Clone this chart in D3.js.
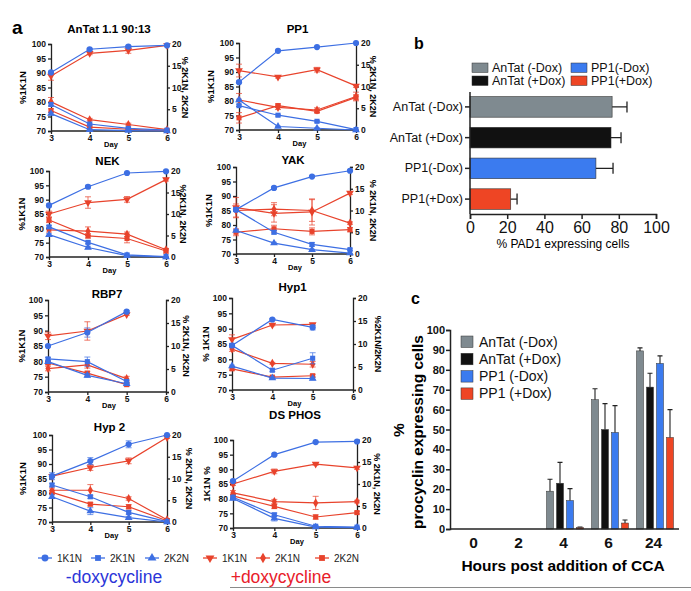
<!DOCTYPE html>
<html><head><meta charset="utf-8">
<script src="https://cdn.jsdelivr.net/npm/d3@7"></script>
<style>body{margin:0;background:#fff} svg{display:block} text{font-family:"Liberation Sans",Arial,Helvetica,sans-serif}</style>
</head><body><svg id="chart" width="691" height="591"></svg>
<script>
// ---------- DATA: panel a (1K1N on left axis %, 2K1N/2K2N on right axis %) ----------
const days = [3, 4, 5, 6];
const seriesNames = ["1K1N", "2K1N", "2K2N", "1K1N", "2K1N", "2K2N"]; // first 3: -dox (blue), last 3: +dox (red)

const antatVals = [[90.2, 98.2, 99.1, 99.5], [6.1, 1.6, 0.6, 0.2], [4.0, 0.3, 0.1, 0.0],
                   [89.0, 96.8, 97.8, 99.5], [6.7, 2.6, 1.5, 0.3], [4.7, 0.9, 0.4, 0.1]];
const antatErr  = [[0.4, 0.3, 0.4, 0.2], [0.3, 0.2, 0.1, 0], [0.3, 0.1, 0.1, 0],
                   [1.5, 0.5, 1.0, 0.3], [1.0, 0.3, 0.3, 0.1], [0.4, 0.2, 0.1, 0]];
const pp1Vals   = [[86.5, 97.3, 98.6, 100], [5.6, 3.4, 2.0, 0.1], [6.9, 0.8, 0.4, 0.0],
                   [90.5, 88.3, 90.8, 85.2], [6.9, 5.2, 4.6, 7.7], [2.8, 5.6, 4.3, 7.5]];
const pp1Err    = [[0.4, 0.2, 0.2, 0], [0.2, 0.2, 0.2, 0], [0.2, 0.1, 0.1, 0],
                   [2.2, 0.4, 0.8, 0.5], [1.5, 0.5, 0.5, 1.0], [1.2, 0.4, 0.3, 0.6]];
const nekVals   = [[88.0, 94.5, 99.3, 99.9], [7.0, 3.4, 0.5, 0.1], [5.2, 2.2, 0.3, 0.0],
                   [85.0, 89.0, 90.1, 97.0], [6.3, 6.0, 5.3, 1.7], [8.6, 4.9, 4.3, 1.4]];
const nekErr    = [[0.5, 0.5, 0.2, 0.1], [0.3, 0.3, 0.2, 0], [0.2, 0.3, 0.1, 0],
                   [1.0, 2.0, 1.0, 0.5], [0.5, 1.0, 0.5, 0.3], [0.6, 0.5, 1.0, 0.5]];
const yakVals   = [[85.3, 92.8, 96.7, 98.7], [10.2, 5.0, 2.2, 1.0], [5.4, 2.5, 1.0, 0.2],
                   [86.0, 84.0, 84.5, 91.0], [10.0, 10.3, 10.0, 7.1], [5.0, 5.8, 5.2, 5.6]];
const yakErr    = [[0.5, 0.4, 0.3, 0.3], [0.4, 0.4, 0.4, 0.2], [0.2, 0.2, 0.1, 0],
                   [3.5, 3.0, 4.5, 0.5], [1.5, 1.5, 2.5, 0.3], [0.8, 0.8, 0.8, 0.5]];
const rbp7Vals  = [[85.0, 89.4, 96.2], [7.2, 6.6, 2.3], [6.6, 3.6, 1.8],
                   [88.3, 89.9, 95.3], [5.1, 5.9, 2.9], [6.3, 4.1, 1.6]];
const rbp7Err   = [[0.3, 1.5, 0.3], [0.3, 1.0, 0.3], [0.2, 0.4, 0.2],
                   [1.2, 3.0, 0.3], [0.5, 0.7, 0.5], [0.3, 0.4, 0.3]];
const hyp1Vals  = [[84.5, 93.0, 90.4], [9.7, 4.3, 6.9], [5.2, 2.6, 2.5],
                   [86.5, 91.2, 91.4], [8.9, 5.8, 5.6], [4.6, 2.8, 3.1]];
const hyp1Err   = [[0.5, 0.3, 0.8], [0.3, 0.3, 1.2], [0.2, 0.2, 0.3],
                   [1.5, 0.3, 0.3], [0.5, 0.2, 0.6], [0.3, 0.2, 0.3]];
const hyp2Vals  = [[85.8, 91.0, 96.8, 100], [8.5, 5.8, 2.2, 0.1], [5.8, 2.5, 1.0, 0.0],
                   [85.8, 88.8, 91.1, 99.1], [7.3, 7.3, 5.4, 0.5], [6.8, 4.1, 3.5, 0.3]];
const hyp2Err   = [[1.2, 1.2, 1.2, 0], [0.4, 0.4, 0.4, 0], [0.4, 0.8, 0.3, 0],
                   [0.5, 1.0, 1.0, 0.3], [0.5, 1.3, 0.4, 0.3], [0.4, 0.4, 0.5, 0.2]];
const dsVals    = [[86.0, 95.0, 99.3, 99.5], [7.0, 3.0, 0.4, 0.2], [6.7, 2.2, 0.2, 0.1],
                   [85.0, 89.3, 91.8, 90.5], [8.0, 6.0, 5.7, 6.0], [7.3, 4.9, 2.5, 3.5]];
const dsErr     = [[0.4, 0.3, 0.2, 0.2], [0.3, 0.4, 0.2, 0.1], [0.3, 0.6, 0.2, 0],
                   [0.5, 0.8, 0.4, 0.5], [0.5, 0.5, 1.5, 0.3], [0.3, 0.5, 0.5, 0.3]];

// ---------- DATA: panel b ----------
const bCats = ["AnTat (-Dox)", "AnTat (+Dox)", "PP1(-Dox)", "PP1(+Dox)"];
const bVals = [76.4, 75.8, 67.7, 21.9];
const bErr  = [8.0, 5.4, 9.2, 3.4];
const bTicks = [0, 20, 40, 60, 80, 100];

// ---------- DATA: panel c ----------
const cHours = ["0", "2", "4", "6", "24"];
const cSeries = ["AnTat (-Dox)", "AnTat (+Dox)", "PP1 (-Dox)", "PP1 (+Dox)"];
const cAnTatMinus = [0, 0, 19.0, 65.0, 89.5];
const cAnTatPlus  = [0, 0, 23.0, 50.0, 71.3];
const cPP1Minus   = [0, 0, 14.3, 48.5, 83.2];
const cPP1Plus    = [0, 0, 0.7, 3.0, 46.0];
const cErrAnTatMinus = [0, 0, 6.0, 5.5, 1.5];
const cErrAnTatPlus  = [0, 0, 10.5, 13.0, 7.0];
const cErrPP1Minus   = [0, 0, 6.0, 13.5, 3.8];
const cErrPP1Plus    = [0, 0, 0.3, 1.5, 14.0];

// ---------- STYLE / LAYOUT ----------
const BLUE = "#3d6fe3", RED = "#e8432c";
const barColors = ["#7f8a90", "#111111", "#3b7bef", "#ee4524"];
const FONT = '"Liberation Sans",Arial,Helvetica,sans-serif';
const svg = d3.select("#chart");

const panelsA = [
  {vals: antatVals, err: antatErr, title: "AnTat 1.1 90:13", x0: 51, x1: 167, y0: 44, y1: 131, tb: 33, ll: "%1K1N", rl: "% 2K1N, 2K2N", lx: 22, rx: 185},
  {vals: pp1Vals, err: pp1Err, title: "PP1", x0: 239, x1: 356, y0: 43, y1: 130, tb: 33, ll: "%1K1N", rl: "% 2K1N, 2K2N", lx: 210, rx: 373},
  {vals: nekVals, err: nekErr, title: "NEK", x0: 49, x1: 166, y0: 171, y1: 257, tb: 165, ll: "%1K1N", rl: "%2K1N, 2K2N", lx: 21, rx: 183},
  {vals: yakVals, err: yakErr, title: "YAK", x0: 236, x1: 350, y0: 167, y1: 254, tb: 164, ll: "%1K1N", rl: "% 2K1N, 2K2N", lx: 208, rx: 373},
  {vals: rbp7Vals, err: rbp7Err, title: "RBP7", x0: 48, x1: 166, y0: 300, y1: 392, tb: 298, ll: "%1K1N", rl: "% 2K1N, 2K2N", lx: 21, rx: 186},
  {vals: hyp1Vals, err: hyp1Err, title: "Hyp1", x0: 232, x1: 353, y0: 298, y1: 390, tb: 291, ll: "% 1K1N", rl: "%2K1N/2K2N", lx: 205, rx: 378},
  {vals: hyp2Vals, err: hyp2Err, title: "Hyp 2", x0: 52, x1: 167, y0: 435, y1: 522, tb: 431, ll: "%1K1N", rl: "% 2K1N, 2K2N", lx: 22, rx: 189},
  {vals: dsVals, err: dsErr, title: "DS PHOS", x0: 233, x1: 357, y0: 440, y1: 528, tb: 419, ll: "1K1N %", rl: "% 2K1N, 2K2N", lx: 206, rx: 377}
];

const symTypes = [d3.symbolCircle, d3.symbolSquare, d3.symbolTriangle, d3.symbolTriangle, d3.symbolDiamond, d3.symbolSquare];
const symSizes = [30, 26, 26, 26, 24, 26];
const symRot = [0, 0, 0, 180, 0, 0];

function styleAxis(g, fs) {
  g.selectAll("path,line").attr("stroke", "#222").attr("stroke-width", 1.3);
  g.selectAll("text").attr("font-family", FONT).attr("font-weight", "bold").attr("font-size", fs).attr("fill", "#111");
}

function drawPanel(p) {
  const g = svg.append("g");
  const x = d3.scaleLinear().domain([3, 6]).range([p.x0, p.x1]);
  const yL = d3.scaleLinear().domain([70, 100]).range([p.y1, p.y0]);
  const yR = d3.scaleLinear().domain([0, 20]).range([p.y1, p.y0]);

  const ax = g.append("g").attr("transform", `translate(0,${p.y1})`)
    .call(d3.axisBottom(x).tickValues(days).tickFormat(d3.format("d")).tickSize(3).tickPadding(1));
  ax.select(".domain").attr("d", `M${p.x0},0H${p.x1}`);
  styleAxis(ax, 8.5);
  const al = g.append("g").attr("transform", `translate(${p.x0},0)`)
    .call(d3.axisLeft(yL).tickValues([70, 75, 80, 85, 90, 95, 100]).tickSize(3).tickPadding(2));
  styleAxis(al, 8.5);
  const ar = g.append("g").attr("transform", `translate(${p.x1},0)`)
    .call(d3.axisRight(yR).tickValues([0, 5, 10, 15, 20]).tickSize(3).tickPadding(2));
  styleAxis(ar, 8.5);

  g.append("text").attr("x", (p.x0 + p.x1) / 2).attr("y", p.tb).attr("text-anchor", "middle")
    .attr("font-weight", "bold").attr("font-size", 11.5).text(p.title);
  g.append("text").attr("x", (p.x0 + p.x1) / 2 + 2).attr("y", p.y1 + 16).attr("text-anchor", "middle")
    .attr("font-weight", "bold").attr("font-size", 7.5).text("Day");
  g.append("text").attr("transform", `translate(${p.lx},${(p.y0 + p.y1) / 2}) rotate(-90)`)
    .attr("text-anchor", "middle").attr("dominant-baseline", "central").attr("font-weight", "bold").attr("font-size", 9.5).text(p.ll);
  g.append("text").attr("transform", `translate(${p.rx},${(p.y0 + p.y1) / 2}) rotate(90)`)
    .attr("text-anchor", "middle").attr("dominant-baseline", "central").attr("font-weight", "bold").attr("font-size", 9).text(p.rl);

  const order = [3, 4, 5, 0, 1, 2];
  order.forEach(i => {
    const vals = p.vals[i], errs = p.err[i];
    const ys = (i % 3 === 0) ? yL : yR;
    const col = i < 3 ? BLUE : RED;
    const pts = vals.map((v, k) => ({d: days[k], v: v, e: errs[k]}));
    const sg = g.append("g");
    sg.append("path").datum(pts).attr("fill", "none").attr("stroke", col).attr("stroke-width", 1.2)
      .attr("d", d3.line().x(d => x(d.d)).y(d => ys(d.v)));
    pts.forEach(d => {
      if (d.e > 0) {
        const lo = ys(d.v - d.e), hi = ys(d.v + d.e), cx = x(d.d);
        sg.append("path").attr("stroke", col).attr("stroke-width", 0.9).attr("fill", "none").attr("opacity", 0.8)
          .attr("d", `M${cx},${lo}V${hi}M${cx - 3},${lo}H${cx + 3}M${cx - 3},${hi}H${cx + 3}`);
      }
    });
    sg.selectAll("path.sym").data(pts).enter().append("path").attr("class", "sym")
      .attr("transform", d => `translate(${x(d.d)},${ys(d.v)}) rotate(${symRot[i]})`)
      .attr("d", d3.symbol().type(symTypes[i]).size(symSizes[i])).attr("fill", col);
  });
}
panelsA.forEach(drawPanel);

// panel letters
svg.append("text").attr("x", 12).attr("y", 34).attr("font-weight", "bold").attr("font-size", 19).text("a");
svg.append("text").attr("x", 414).attr("y", 49).attr("font-weight", "bold").attr("font-size", 16).text("b");
svg.append("text").attr("x", 411).attr("y", 304).attr("font-weight", "bold").attr("font-size", 16).text("c");

// panel a legend
const legX = [45, 98, 152, 210, 263, 322];
const legY = 558;
seriesNames.forEach((s, i) => {
  const col = i < 3 ? BLUE : RED;
  svg.append("line").attr("x1", legX[i] - 7).attr("x2", legX[i] + 7).attr("y1", legY).attr("y2", legY).attr("stroke", col).attr("stroke-width", 1.3);
  svg.append("path").attr("transform", `translate(${legX[i]},${legY}) rotate(${symRot[i]})`)
    .attr("d", d3.symbol().type(symTypes[i]).size(symSizes[i] + 8)).attr("fill", col);
  svg.append("text").attr("x", legX[i] + 12).attr("y", legY + 3.5).attr("font-size", 10).attr("fill", "#222").text(s);
});
svg.append("text").attr("x", 114).attr("y", 583).attr("text-anchor", "middle").attr("font-size", 17.5).attr("fill", "#2b35d8").text("-doxycycline");
svg.append("text").attr("x", 281).attr("y", 583).attr("text-anchor", "middle").attr("font-size", 17.5).attr("fill", "#e8202a").text("+doxycycline");
svg.append("line").attr("x1", 230).attr("x2", 691).attr("y1", 587.5).attr("y2", 587.5).attr("stroke", "#8a8a8a").attr("stroke-width", 1.2);

// ---------- panel b ----------
(function () {
  const g = svg.append("g");
  const x = d3.scaleLinear().domain([0, 100]).range([470, 656]);
  const y = d3.scaleBand().domain(bCats).range([92, 214]).paddingInner(0.33).paddingOuter(0.15);
  g.selectAll("rect.bar").data(bCats).enter().append("rect").attr("class", "bar")
    .attr("x", x(0)).attr("y", d => y(d)).attr("height", y.bandwidth())
    .attr("width", (d, i) => x(bVals[i]) - x(0)).attr("fill", (d, i) => barColors[i])
    .attr("stroke", "#333").attr("stroke-width", 0.6);
  bCats.forEach((c, i) => {
    const cy = y(c) + y.bandwidth() / 2, x0 = x(bVals[i]), x1 = x(bVals[i] + bErr[i]);
    g.append("path").attr("stroke", "#222").attr("stroke-width", 1.3).attr("fill", "none")
      .attr("d", `M${x0},${cy}H${x1}M${x1},${cy - 5.5}V${cy + 5.5}`);
  });
  const ax = g.append("g").attr("transform", "translate(0,214)").call(d3.axisBottom(x).tickValues(bTicks).tickSize(5).tickPadding(3));
  ax.selectAll("path,line").attr("stroke", "#222").attr("stroke-width", 1.5);
  ax.selectAll("text").attr("font-family", FONT).attr("font-size", 16).attr("fill", "#111");
  const ay = g.append("g").attr("transform", "translate(470,0)").call(d3.axisLeft(y).tickSize(5).tickPadding(2));
  ay.selectAll("path,line").attr("stroke", "#222").attr("stroke-width", 1.5);
  ay.select(".domain").attr("d", "M0,92V214");
  ay.selectAll("text").attr("font-family", FONT).attr("font-size", 12.5).attr("fill", "#111");
  g.append("text").attr("x", 563).attr("y", 248).attr("text-anchor", "middle").attr("font-size", 12).text("% PAD1 expressing cells");
  // legend
  const lx = [472, 571], ly = [63, 76];
  bCats.forEach((c, i) => {
    const col = Math.floor(i / 2), row = i % 2;
    g.append("rect").attr("x", lx[col]).attr("y", ly[row]).attr("width", 16).attr("height", 9.5).attr("fill", barColors[i]).attr("stroke", "#333").attr("stroke-width", 0.5);
    g.append("text").attr("x", lx[col] + 20).attr("y", ly[row] + 9).attr("font-size", 12.5).attr("fill", "#111").text(c);
  });
})();

// ---------- panel c ----------
(function () {
  const g = svg.append("g");
  const cData = [cAnTatMinus, cAnTatPlus, cPP1Minus, cPP1Plus];
  const cErr = [cErrAnTatMinus, cErrAnTatPlus, cErrPP1Minus, cErrPP1Plus];
  const x = d3.scaleBand().domain(cHours).range([451, 676]);
  const xi = d3.scaleBand().domain(cSeries).range([4, 44]).paddingInner(0.3).paddingOuter(0.15);
  const y = d3.scaleLinear().domain([0, 100]).range([529, 330]);
  cSeries.forEach((s, si) => {
    cHours.forEach((h, hi) => {
      const v = cData[si][hi], e = cErr[si][hi];
      const bx = x(h) + xi(s), bw = xi.bandwidth();
      if (v > 0) {
        g.append("rect").attr("x", bx).attr("y", y(v)).attr("width", bw).attr("height", y(0) - y(v))
          .attr("fill", barColors[si]).attr("stroke", "#333").attr("stroke-width", 0.5);
      }
      if (e > 0) {
        const cx = bx + bw / 2;
        g.append("path").attr("stroke", "#222").attr("stroke-width", 1.1).attr("fill", "none")
          .attr("d", `M${cx},${y(v)}V${y(v + e)}M${cx - 2.5},${y(v + e)}H${cx + 2.5}`);
      }
    });
  });
  const ax = g.append("g").attr("transform", "translate(0,529)").call(d3.axisBottom(x).tickSize(0).tickPadding(8));
  ax.select(".domain").attr("d", "M450,0H679").attr("stroke", "#222").attr("stroke-width", 1.6);
  ax.selectAll("text").attr("font-family", FONT).attr("font-weight", "bold").attr("font-size", 15.5).attr("fill", "#111");
  const ay = g.append("g").attr("transform", "translate(450,0)").call(d3.axisLeft(y).ticks(10).tickSize(4).tickPadding(1));
  ay.selectAll("path,line").attr("stroke", "#222").attr("stroke-width", 1.5);
  ay.selectAll("text").attr("font-family", FONT).attr("font-weight", "bold").attr("font-size", 11).attr("fill", "#111");
  g.append("text").attr("x", 563).attr("y", 571).attr("text-anchor", "middle").attr("font-weight", "bold").attr("font-size", 15.5).text("Hours post addition of CCA");
  g.append("text").attr("transform", "translate(404,430) rotate(-90)").attr("text-anchor", "middle").attr("font-weight", "bold").attr("font-size", 15.5).text("%");
  g.append("text").attr("transform", "translate(423,432) rotate(-90)").attr("text-anchor", "middle").attr("font-weight", "bold").attr("font-size", 15.5).text("procyclin expressing cells");
  cSeries.forEach((s, i) => {
    const ly = 336 + i * 17.3;
    g.append("rect").attr("x", 461).attr("y", ly).attr("width", 12).attr("height", 11.5).attr("fill", barColors[i]).attr("stroke", "#333").attr("stroke-width", 0.5);
    g.append("text").attr("x", 479).attr("y", ly + 10.5).attr("font-size", 14).attr("fill", "#111").text(s);
  });
})();
</script></body></html>
